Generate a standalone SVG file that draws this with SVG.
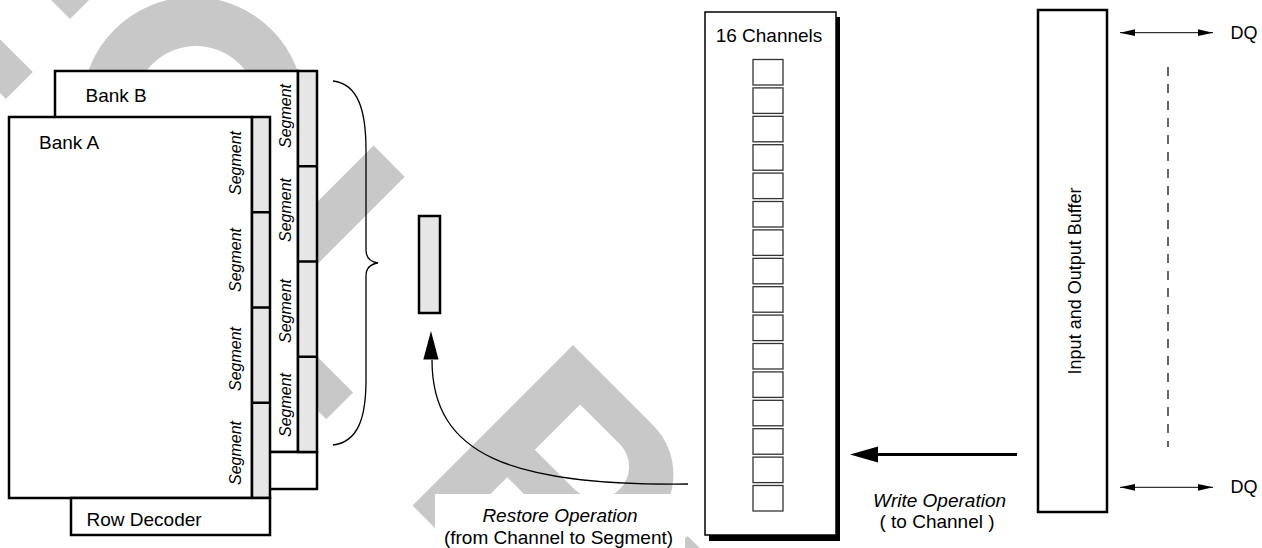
<svg xmlns="http://www.w3.org/2000/svg" width="1262" height="548" viewBox="0 0 1262 548">
<style>
.wm{fill:#c8c8c8;fill-rule:evenodd}
.box{fill:#fff;stroke:#000;stroke-width:2.5}
.seg{fill:#e6e6e6;stroke:#000;stroke-width:2.5}
.div{stroke:#000;stroke-width:2.5}
.t{font-family:"Liberation Sans",Arial,Helvetica,sans-serif;font-size:19px;fill:#000}
.it{font-style:italic}
.mid{text-anchor:middle}
.st{font-family:"Liberation Sans",Arial,Helvetica,sans-serif;font-size:16px;font-style:italic;text-anchor:middle;fill:#000}
.sq{fill:#fff;stroke:#333;stroke-width:1.3}
.thin{fill:none;stroke:#000;stroke-width:1.3}
</style>
<defs>
<marker id="ah" viewBox="0 0 15 8" refX="15" refY="4" markerWidth="15" markerHeight="8" markerUnits="userSpaceOnUse" orient="auto-start-reverse">
<path d="M0,0.6 L15,4 L0,7.4 Z" fill="#000"/>
</marker>
</defs>
<rect width="1262" height="548" fill="#fff"/>
<g id="watermark">
<polygon class="wm" points="70,19 96,-7 -60,-163 -86,-137"/>
<polygon class="wm" points="32.8,72.1 5.9,99 -153.2,-60.2 -126.3,-87"/>
<path class="wm" d="M82,108 a111,111 0 1 0 222,0 a111,111 0 1 0 -222,0 Z M134,108 a62,62 0 1 0 124,0 a62,62 0 1 0 -124,0 Z"/>
<polygon class="wm" points="373.6,145.6 404.7,176.7 271.1,310.4 353.1,392.4 326.2,419.2 213.1,306.1"/>
<path class="wm" d="M573,345 L652.9,424.9 A70,70 0 0 1 652.9,523.9 A70,70 0 0 1 553.9,523.9 L507.2,477.2 L445.7,538.7 L412.5,505.5 Z M580.1,404.4 L619.7,444 A32,32 0 0 1 619.7,489.3 A32,32 0 0 1 574.4,489.3 L534.8,449.7 Z"/>
<polygon class="wm" points="687.6,535.9 760,608 640,728 568,656"/>
</g>
<g id="bankB">
<rect class="box" x="55" y="71" width="243" height="381"/>
<rect class="box" x="117" y="452" width="200" height="37"/>
<rect class="seg" x="298" y="71" width="19" height="381"/>
<line class="div" x1="298" y1="166.25" x2="317" y2="166.25"/>
<line class="div" x1="298" y1="261.5" x2="317" y2="261.5"/>
<line class="div" x1="298" y1="356.75" x2="317" y2="356.75"/>
<text class="t" x="85.5" y="102">Bank B</text>
<text class="st" transform="translate(291,116) rotate(-90)">Segment</text>
<text class="st" transform="translate(291,210) rotate(-90)">Segment</text>
<text class="st" transform="translate(291,311) rotate(-90)">Segment</text>
<text class="st" transform="translate(291,405) rotate(-90)">Segment</text>
</g>
<g id="bankA">
<rect class="box" x="9" y="117" width="243" height="381"/>
<rect class="seg" x="252" y="117" width="18" height="381"/>
<line class="div" x1="252" y1="212.25" x2="270" y2="212.25"/>
<line class="div" x1="252" y1="307.5" x2="270" y2="307.5"/>
<line class="div" x1="252" y1="402.75" x2="270" y2="402.75"/>
<text class="t" x="39" y="148.5">Bank A</text>
<text class="st" transform="translate(241,163) rotate(-90)">Segment</text>
<text class="st" transform="translate(241,260) rotate(-90)">Segment</text>
<text class="st" transform="translate(241,359) rotate(-90)">Segment</text>
<text class="st" transform="translate(241,453) rotate(-90)">Segment</text>
</g>
<g id="rowDecoder">
<rect class="box" x="71" y="498" width="199" height="37"/>
<text class="t" x="86.5" y="526">Row Decoder</text>
</g>
<g id="brace">
<path class="thin" d="M333,81 C358,84 366,110 366,150 L366,250 C366,258 371,262 378,263 C371,264 366,268 366,276 L366,380 C366,418 358,442 333,445"/>
</g>
<g id="segmentBuffer">
<rect class="seg" x="419" y="216" width="21" height="97"/>
</g>
<g id="restoreLabel">
<rect x="435" y="494" width="250" height="54" fill="#fff"/>
<text class="t it mid" x="560" y="522">Restore Operation</text>
<text class="t mid" x="558.5" y="543.6">(from Channel to Segment)</text>
</g>
<g id="channels">
<rect x="709" y="17" width="131" height="524" fill="#000"/>
<rect x="705" y="12" width="131" height="523" fill="#fff" stroke="#000" stroke-width="1.5"/>
<text class="t mid" x="769" y="42">16 Channels</text>
<rect class="sq" x="753" y="59.5" width="30" height="25.5"/>
<rect class="sq" x="753" y="87.9" width="30" height="25.5"/>
<rect class="sq" x="753" y="116.3" width="30" height="25.5"/>
<rect class="sq" x="753" y="144.7" width="30" height="25.5"/>
<rect class="sq" x="753" y="173.1" width="30" height="25.5"/>
<rect class="sq" x="753" y="201.5" width="30" height="25.5"/>
<rect class="sq" x="753" y="229.9" width="30" height="25.5"/>
<rect class="sq" x="753" y="258.3" width="30" height="25.5"/>
<rect class="sq" x="753" y="286.7" width="30" height="25.5"/>
<rect class="sq" x="753" y="315.1" width="30" height="25.5"/>
<rect class="sq" x="753" y="343.5" width="30" height="25.5"/>
<rect class="sq" x="753" y="371.9" width="30" height="25.5"/>
<rect class="sq" x="753" y="400.3" width="30" height="25.5"/>
<rect class="sq" x="753" y="428.7" width="30" height="25.5"/>
<rect class="sq" x="753" y="457.1" width="30" height="25.5"/>
<rect class="sq" x="753" y="485.5" width="30" height="25.5"/>
</g>
<g id="ioBuffer">
<rect class="box" x="1038" y="10" width="69" height="502"/>
<text class="t mid" style="font-size:18px" transform="translate(1081,281) rotate(-90)">Input and Output Buffer</text>
</g>
<g id="dq">
<text class="t" style="font-size:18px" x="1230.5" y="39">DQ</text>
<text class="t" style="font-size:18px" x="1230.5" y="493">DQ</text>
</g>
<g id="writeLabel">
<text class="t it mid" x="939.5" y="506.5">Write Operation</text>
<text class="t mid" x="937" y="528">( to Channel )</text>
</g>
<g id="connectors">
<path class="thin" d="M688,484 C510,486 432,455 432,360"/>
<polygon points="431,331 423.3,359.5 438.5,359.5" fill="#000"/>
<line x1="878" y1="454.5" x2="1017" y2="454.5" stroke="#000" stroke-width="3"/>
<polygon points="850,454.5 878,446.5 878,462.5" fill="#000"/>
<line x1="1120" y1="32.7" x2="1213" y2="32.7" stroke="#000" stroke-width="1" marker-start="url(#ah)" marker-end="url(#ah)"/>
<line x1="1120" y1="487.3" x2="1213" y2="487.3" stroke="#000" stroke-width="1" marker-start="url(#ah)" marker-end="url(#ah)"/>
<line x1="1168" y1="67" x2="1168" y2="447" stroke="#000" stroke-width="1.2" stroke-dasharray="9 8"/>
</g>
</svg>
